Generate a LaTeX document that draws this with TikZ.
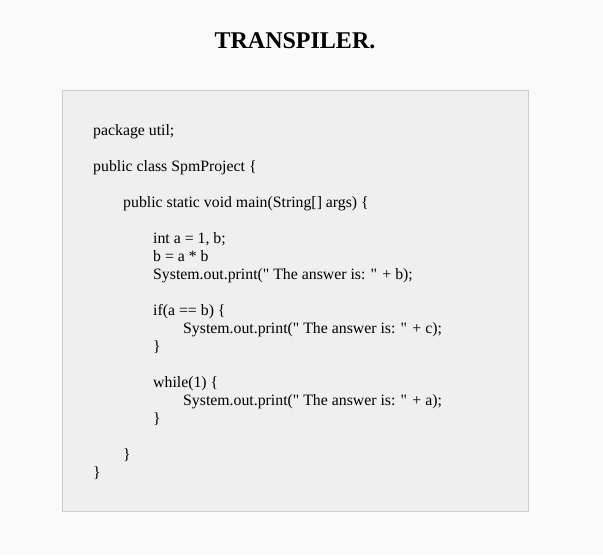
\documentclass[tikz,border=0pt]{standalone}
\usepackage{fontspec}
\setmainfont{Liberation Serif}
\definecolor{pagebg}{HTML}{FAFAFA}
\definecolor{boxbg}{HTML}{EFEFEF}
\definecolor{boxline}{HTML}{CCCCCC}
\newcommand{\dq}{\textquotedbl}
\begin{document}
\begin{tikzpicture}[x=1pt,y=-1pt,
  code/.style={anchor=base west,inner sep=0pt,font=\fontsize{15.8}{18}\selectfont},
  titlestyle/.style={anchor=base,inner sep=0pt,font=\fontsize{24}{28}\selectfont\bfseries}]
\fill[pagebg] (0,0) rectangle (603,555);
\useasboundingbox (0,0) rectangle (603,555);
\draw[boxline,fill=boxbg,line width=1pt] (62.5,90.5) rectangle (528.5,511.5);
\node[titlestyle] (title) at (295,48) {TRANSPILER.};
\node[code] (l1) at (93,135.5) {package util;};
\node[code] (l2) at (93,171.5) {public class SpmProject \{};
\node[code] (l3) at (123,207.5) {public static void main(String[] args) \{};
\node[code] (l4) at (153,243.5) {int a = 1, b;};
\node[code] (l5) at (153,261.5) {b = a * b};
\node[code] (l6) at (153,279.5) {System.out.print(\dq{} The answer is: \dq{} + b);};
\node[code] (l7) at (153,315.5) {if(a == b) \{};
\node[code] (l8) at (183,333.5) {System.out.print(\dq{} The answer is: \dq{} + c);};
\node[code] (l9) at (153,351.5) {\}};
\node[code] (l10) at (153,387.5) {while(1) \{};
\node[code] (l11) at (183,405.5) {System.out.print(\dq{} The answer is: \dq{} + a);};
\node[code] (l12) at (153,423.5) {\}};
\node[code] (l13) at (123,459.5) {\}};
\node[code] (l14) at (93,477.5) {\}};
\end{tikzpicture}
\end{document}
